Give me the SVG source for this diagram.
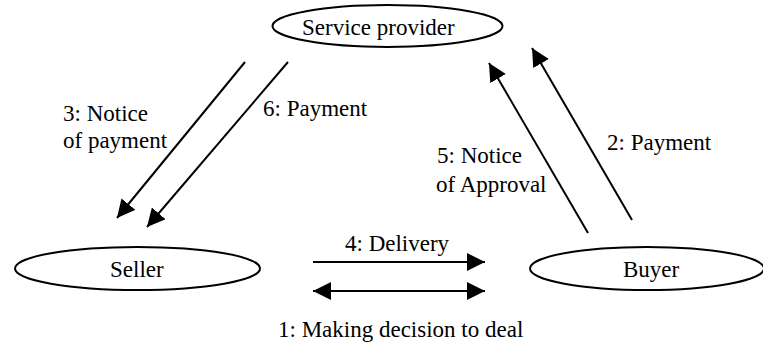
<svg xmlns="http://www.w3.org/2000/svg" width="763" height="345" viewBox="0 0 763 345">
<style>
.node ellipse{fill:#fff;stroke:#000;stroke-width:2}
text{font-family:"Liberation Serif","Times New Roman",serif;font-size:23px;fill:#000}
.c line{stroke:#000;stroke-width:2;fill:none}
</style>
<defs>
<marker id="ah" viewBox="0 0 18 18" refX="18" refY="9" markerWidth="18" markerHeight="18" markerUnits="userSpaceOnUse" orient="auto-start-reverse">
<path d="M0,0 L18,9 L0,18 Z" fill="#000"/>
</marker>
</defs>
<g id="service-provider" class="node">
<ellipse cx="387.5" cy="26" rx="115" ry="21"/>
<text x="302" y="35">Service provider</text>
</g>
<g id="seller" class="node">
<ellipse cx="137.5" cy="268.5" rx="122.5" ry="21.5"/>
<text x="110" y="277">Seller</text>
</g>
<g id="buyer" class="node">
<ellipse cx="647" cy="268.5" rx="117" ry="21.5"/>
<text x="623" y="277">Buyer</text>
</g>
<g id="connectors" class="c">
<line x1="245" y1="62" x2="117" y2="218" marker-end="url(#ah)"/>
<line x1="288" y1="62" x2="147" y2="227" marker-end="url(#ah)"/>
<line x1="588" y1="233" x2="489" y2="63" marker-end="url(#ah)"/>
<line x1="632" y1="220" x2="532" y2="48" marker-end="url(#ah)"/>
<line x1="313" y1="262" x2="485" y2="262" marker-end="url(#ah)"/>
<line x1="313" y1="291" x2="485" y2="291" marker-start="url(#ah)" marker-end="url(#ah)"/>
</g>
<g id="labels">
<text x="63" y="121">3: Notice</text>
<text x="63" y="148">of payment</text>
<text x="263" y="116">6: Payment</text>
<text x="437" y="163">5: Notice</text>
<text x="436" y="192">of Approval</text>
<text x="607" y="150">2: Payment</text>
<text x="345" y="251">4: Delivery</text>
<text x="278" y="337">1: Making decision to deal</text>
</g>
</svg>
